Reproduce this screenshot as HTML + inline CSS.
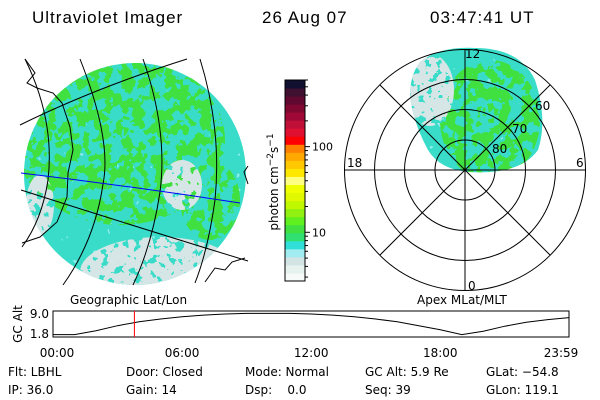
<!DOCTYPE html>
<html><head><meta charset="utf-8"><style>
body{margin:0;background:#fff;width:600px;height:400px;overflow:hidden}
svg{display:block;font-family:"DejaVu Sans","Liberation Sans",sans-serif}
filter{color-interpolation-filters:sRGB}
</style></head><body>
<svg width="600" height="400" viewBox="0 0 600 400">
<defs>
 <filter id="ng" x="0" y="0" width="100%" height="100%" color-interpolation-filters="sRGB">
  <feTurbulence type="fractalNoise" baseFrequency="0.09" numOctaves="3" seed="4"/>
  <feColorMatrix type="matrix" values="0 0 0 0 0.25  0 0 0 0 0.88  0 0 0 0 0.25  1 0 0 0 0"/>
  <feComponentTransfer><feFuncA type="discrete" tableValues="0 0 0 1 1 1"/></feComponentTransfer>
 </filter>
 <filter id="nw" x="0" y="0" width="100%" height="100%" color-interpolation-filters="sRGB">
  <feTurbulence type="fractalNoise" baseFrequency="0.12" numOctaves="3" seed="9"/>
  <feColorMatrix type="matrix" values="0 0 0 0 0.84  0 0 0 0 0.9  0 0 0 0 0.9  0 1 0 0 0"/>
  <feComponentTransfer><feFuncA type="discrete" tableValues="0 0 1 1 1"/></feComponentTransfer>
 </filter>
 <filter id="nc" x="0" y="0" width="100%" height="100%" color-interpolation-filters="sRGB">
  <feTurbulence type="fractalNoise" baseFrequency="0.14" numOctaves="2" seed="2"/>
  <feColorMatrix type="matrix" values="0 0 0 0 0.55  0 0 0 0 0.92  0 0 0 0 0.92  0 0 1 0 0"/>
  <feComponentTransfer><feFuncA type="discrete" tableValues="0 0 0 0 1"/></feComponentTransfer>
 </filter>
 <clipPath id="disk"><circle cx="135" cy="174" r="111"/></clipPath>
 <clipPath id="blob"><path d="M420,62 Q440,46 475,48 Q520,48 535,80 Q548,120 538,150 Q520,175 470,172 Q440,170 428,150 Q412,120 410,95 Q410,75 420,62Z"/></clipPath>
 <mask id="gm"><rect x="0" y="0" width="260" height="300" fill="#000"/><ellipse cx="120" cy="140" rx="105" ry="85" fill="#fff"/><ellipse cx="210" cy="200" rx="30" ry="40" fill="#fff"/></mask>
 <mask id="wm"><rect x="0" y="0" width="260" height="300" fill="#000"/><ellipse cx="160" cy="272" rx="80" ry="35" fill="#fff"/><ellipse cx="182" cy="185" rx="20" ry="25" fill="#fff"/><ellipse cx="40" cy="205" rx="14" ry="30" fill="#fff"/></mask>
 <mask id="bgm"><rect x="340" y="40" width="250" height="140" fill="#000"/><ellipse cx="490" cy="120" rx="50" ry="60" fill="#fff"/></mask>
 <mask id="bwm"><rect x="340" y="40" width="250" height="140" fill="#000"/><ellipse cx="430" cy="90" rx="24" ry="36" fill="#fff"/></mask>
</defs>

<g font-size="17" fill="#000" font-family="Liberation Sans, sans-serif" letter-spacing="1">
 <text x="32" y="23">Ultraviolet Imager</text>
 <text x="262" y="23">26 Aug 07</text>
 <text x="430" y="23">03:47:41 UT</text>
</g>

<g>
 <g clip-path="url(#disk)">
  <rect x="20" y="60" width="235" height="230" fill="#38dcc8"/>
  <rect x="20" y="60" width="235" height="230" filter="url(#nc)"/>
  <g mask="url(#gm)"><rect x="0" y="0" width="260" height="300" filter="url(#ng)"/></g>
  <g mask="url(#wm)"><rect x="0" y="0" width="260" height="300" filter="url(#nw)"/></g>
 </g>
 <g fill="none" stroke="#000" stroke-width="1">
  <path d="M20,125 Q95,88 187,59"/>
  <path d="M21,190 Q140,228 248,261"/>
  <path d="M25,59 Q55,120 48,180 Q42,220 22,247"/>
  <path d="M80,59 Q112,140 103,184 Q95,240 63,285"/>
  <path d="M143,59 Q168,130 160,192 Q152,245 133,285"/>
  <path d="M200,59 Q222,130 215,200 Q208,250 195,283"/>
  <path d="M25,59 L35,73 L27,83 L37,88 L53,93 L62,103 L70,127 L73,150 L68,173 L67,197 L57,222 L40,237 L22,243"/>
  <path d="M248,166 L244,172 L248,184" />
  <path d="M205,282 L215,268 L225,270 L232,262 L245,258"/>
 </g>
 <path d="M21,173 Q130,186 240,203" fill="none" stroke="#0000ff" stroke-width="1"/>
</g>

<g id="cbar"></g>
<text transform="translate(278,182) rotate(-90)" text-anchor="middle" font-size="12">photon cm<tspan dy="-5" font-size="9">−2</tspan><tspan dy="5">s</tspan><tspan dy="-5" font-size="9">−1</tspan></text>

<g>
 <g clip-path="url(#blob)">
  <rect x="405" y="44" width="140" height="132" fill="#38dcc8"/>
  <rect x="405" y="44" width="140" height="132" filter="url(#nc)"/>
  <g mask="url(#bgm)"><rect x="340" y="40" width="250" height="140" filter="url(#ng)"/></g>
  <g mask="url(#bwm)"><rect x="340" y="40" width="250" height="140" filter="url(#nw)"/></g>
 </g>
 <g fill="none" stroke="#000" stroke-width="1">
  <circle cx="465" cy="170" r="30"/><circle cx="465" cy="170" r="60.5"/><circle cx="465" cy="170" r="90.5"/><circle cx="465" cy="170" r="120.5"/>
  <line x1="344" y1="170" x2="586" y2="170"/><line x1="465" y1="49" x2="465" y2="291"/>
  <line x1="380" y1="85" x2="550" y2="255"/><line x1="550" y1="85" x2="380" y2="255"/>
 </g>
 <g font-size="12" fill="#000">
  <text x="465" y="58">12</text>
  <text x="347" y="167">18</text>
  <text x="576" y="167">6</text>
  <text x="468" y="290">0</text>
  <text x="535" y="110">60</text>
  <text x="512" y="133">70</text>
  <text x="492" y="153">80</text>
 </g>
</g>

<g font-size="12" fill="#000">
 <text x="70" y="304">Geographic Lat/Lon</text>
 <text x="417" y="304">Apex MLat/MLT</text>
</g>

<g id="alt">
 <rect x="53" y="311" width="516" height="26" fill="none" stroke="#000"/>
 <text transform="translate(22,324) rotate(-90)" text-anchor="middle" font-size="12">GC Alt</text>
</g>

<g font-size="12" fill="#000">
 <text x="8" y="376">Flt: LBHL</text><text x="8" y="394">IP: 36.0</text>
 <text x="126" y="376">Door: Closed</text><text x="126" y="394">Gain: 14</text>
 <text x="245" y="376">Mode: Normal</text><text x="245" y="394">Dsp:&#160;&#160;&#160;&#160;0.0</text>
 <text x="365" y="376">GC Alt: 5.9 Re</text><text x="365" y="394">Seq: 39</text>
 <text x="486" y="376">GLat: −54.8</text><text x="486" y="394">GLon: 119.1</text>
</g>
</svg>
<script>
const NS='http://www.w3.org/2000/svg';
const cbColors=['#f6faf8','#e6f2ee','#d2e4e4','#a0ecf0','#30e0d8','#30e070','#40e040','#60f020','#90f010','#c0f800','#e0f800','#f0ff00','#ffff80','#ffe800','#ffc800','#ffa800','#ff8000','#ff0000','#e01030','#c01038','#a00838','#800830','#600830','#401030','#101030'];
const cbTickLabels=['10','100'];
const cbTickValues=[10,100];
const cbMin=2.7, cbMax=600;
const cb=document.getElementById('cbar');
const cbTop=80, cbBot=281, cbX=285, cbW=20;
function cbY(v){return cbBot-(Math.log10(v)-Math.log10(cbMin))/(Math.log10(cbMax)-Math.log10(cbMin))*(cbBot-cbTop);}
const sh=(cbBot-cbTop)/cbColors.length;
cbColors.forEach((c,i)=>{
 const r=document.createElementNS(NS,'rect');
 r.setAttribute('x',cbX);r.setAttribute('y',cbBot-(i+1)*sh);r.setAttribute('width',cbW);r.setAttribute('height',sh+0.5);r.setAttribute('fill',c);
 
 
 cb.appendChild(r);
});
const fr=document.createElementNS(NS,'rect');
fr.setAttribute('x',cbX);fr.setAttribute('y',cbTop);fr.setAttribute('width',cbW);fr.setAttribute('height',cbBot-cbTop);fr.setAttribute('fill','none');fr.setAttribute('stroke','#000');


cb.appendChild(fr);
for(let d=1;d<=3;d++)for(let m=1;m<10;m++){const v=m*Math.pow(10,d-1);if(v<cbMin||v>cbMax)continue;
 const l=document.createElementNS(NS,'line');const y=cbY(v);
 l.setAttribute('x1',cbX+cbW);l.setAttribute('x2',cbX+cbW+(m==1?5:3));l.setAttribute('y1',y);l.setAttribute('y2',y);l.setAttribute('stroke','#000');
 
 
 cb.appendChild(l);}
cbTickValues.forEach((v,i)=>{const t=document.createElementNS(NS,'text');
 t.setAttribute('x',cbX+cbW+7);t.setAttribute('y',cbY(v)+4);t.setAttribute('font-size','11');t.textContent=cbTickLabels[i];
 
 
 cb.appendChild(t);});

const altHours=[0,1,2,3,4,5,6,7,8,9,10,11,12,13,14,15,16,17,18,19,20,21,22,23,24];
const altValues=[1.6,1.6,3.0,4.8,6.2,7.2,8.0,8.6,9.0,9.2,9.2,9.2,9.0,8.6,8.0,7.2,6.2,4.8,3.3,1.6,2.8,4.6,6.0,7.0,7.7];
const yTickValues=[1.8,9.0];
const yTickLabels=['1.8','9.0'];
const xTickMinutes=[0,360,720,1080,1439];
const xTickLabels=['00:00','06:00','12:00','18:00','23:59'];
const currentMinute=227;
const g=document.getElementById('alt');
const x0=53,x1=569,yTop=311,yBot=337;
function tx(min){return x0+min/1439*(x1-x0);}
function ay(v){return Math.min(yBot,Math.max(yTop,334-(v-1.8)/(9.0-1.8)*(334-314)));}
const pl=document.createElementNS(NS,'polyline');
pl.setAttribute('points',altHours.map((h,i)=>tx(Math.min(h*60,1439)).toFixed(1)+','+ay(altValues[i]).toFixed(1)).join(' '));
pl.setAttribute('fill','none');pl.setAttribute('stroke','#000');


g.appendChild(pl);
const cl=document.createElementNS(NS,'line');
cl.setAttribute('x1',tx(currentMinute));cl.setAttribute('x2',tx(currentMinute));cl.setAttribute('y1',yTop);cl.setAttribute('y2',yBot);cl.setAttribute('stroke','#ff0000');


g.appendChild(cl);
yTickValues.forEach((v,i)=>{const t=document.createElementNS(NS,'text');
 t.setAttribute('x',49);t.setAttribute('y',334-(v-1.8)/(7.2)*20+4);t.setAttribute('text-anchor','end');t.setAttribute('font-size','12');t.textContent=yTickLabels[i];
 
 
 g.appendChild(t);});
xTickMinutes.forEach((m,i)=>{const t=document.createElementNS(NS,'text');
 let x=tx(m); if(i==0)x+=4; if(i==xTickMinutes.length-1)x-=8;
 t.setAttribute('x',x);t.setAttribute('y',357);t.setAttribute('text-anchor','middle');t.setAttribute('font-size','12');t.textContent=xTickLabels[i];
 
 
 g.appendChild(t);});
</script>
</body></html>
